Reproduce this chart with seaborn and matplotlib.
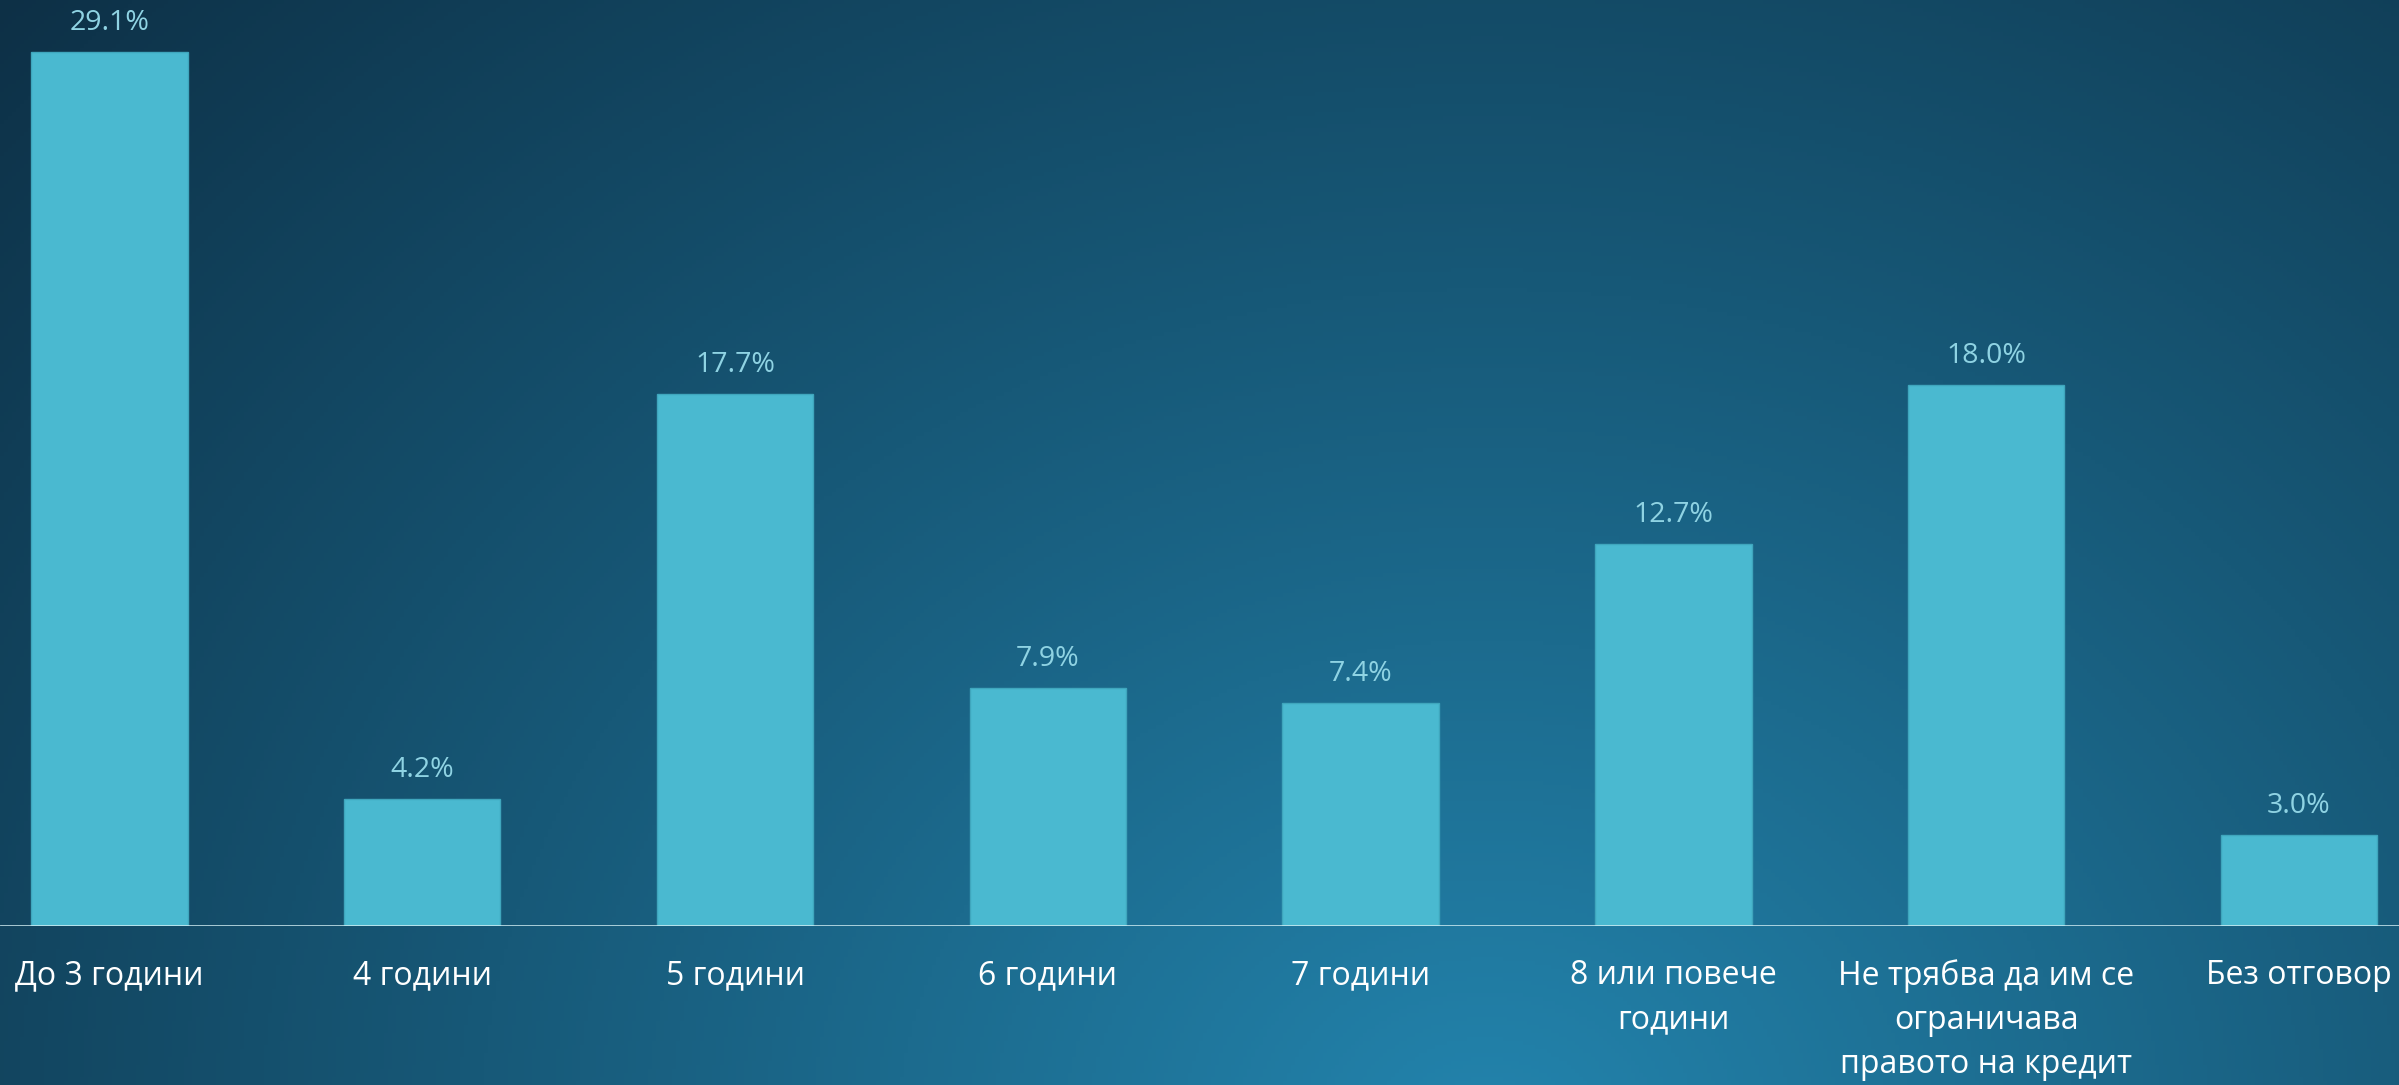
import numpy as np
import pandas as pd
import seaborn as sns
import matplotlib.pyplot as plt
from matplotlib.colors import LinearSegmentedColormap

# данни
categories = ["До 3 години", "4 години", "5 години", "6 години", "7 години",
              "8 или повече\nгодини", "Не трябва да им се\nограничава\nправото на кредит",
              "Без отговор"]
values = [29.1, 4.2, 17.7, 7.9, 7.4, 12.7, 18.0, 3.0]
value_labels = ["29.1%", "4.2%", "17.7%", "7.9%", "7.4%", "12.7%", "18.0%", "3.0%"]

df = pd.DataFrame({"cat": categories, "val": values})

sns.set_theme(style="white")
plt.rcParams['font.family'] = ['Open Sans', 'DejaVu Sans']

fig = plt.figure(figsize=(23.99, 10.85), dpi=100)

# фон - радиален градиент
bg = fig.add_axes([0, 0, 1, 1], zorder=-1)
W, H = 600, 271
xx, yy = np.meshgrid(np.linspace(0, 1, W), np.linspace(0, 1, H))
d = np.sqrt(((xx - 0.62) / 0.75) ** 2 + ((yy - 1.05) / 1.4) ** 2)
t = np.clip(d / 1.12, 0, 1)
cmap = LinearSegmentedColormap.from_list("bg", [(0, "#2384ad"), (0.5, "#175978"), (1, "#0d3046")])
bg.imshow(t, cmap=cmap, aspect="auto", extent=[0, 1, 1, 0], vmin=0, vmax=1)
bg.set_axis_off()

ax = fig.add_axes([0, 0.147, 1, 0.853])
ax.patch.set_alpha(0)
sns.barplot(data=df, x="cat", y="val", color="#4ab9d0", saturation=1, width=0.5,
            edgecolor="#3fa6bd", linewidth=1, ax=ax)
ax.set_xlim(-0.35, 7.32)
ax.set_ylim(0, 30.83)
ax.axhline(0, color="#d6f1f6", lw=1.8, zorder=5)

for i, (v, lab) in enumerate(zip(values, value_labels)):
    ax.annotate(lab, (i, v), xytext=(0, 11), textcoords="offset points",
                ha="center", va="bottom", fontsize=20.5, color="#8fd3e3")

ax.set_xlabel("")
ax.set_ylabel("")
ax.set_yticks([])
ax.tick_params(axis="x", length=0, pad=24)
for lbl in ax.get_xticklabels():
    lbl.set_color("white")
    lbl.set_fontsize(23)
    lbl.set_linespacing(1.45)
    lbl.set_verticalalignment("top")
sns.despine(ax=ax, left=True, bottom=True)

fig.savefig("out.png", dpi=100)
